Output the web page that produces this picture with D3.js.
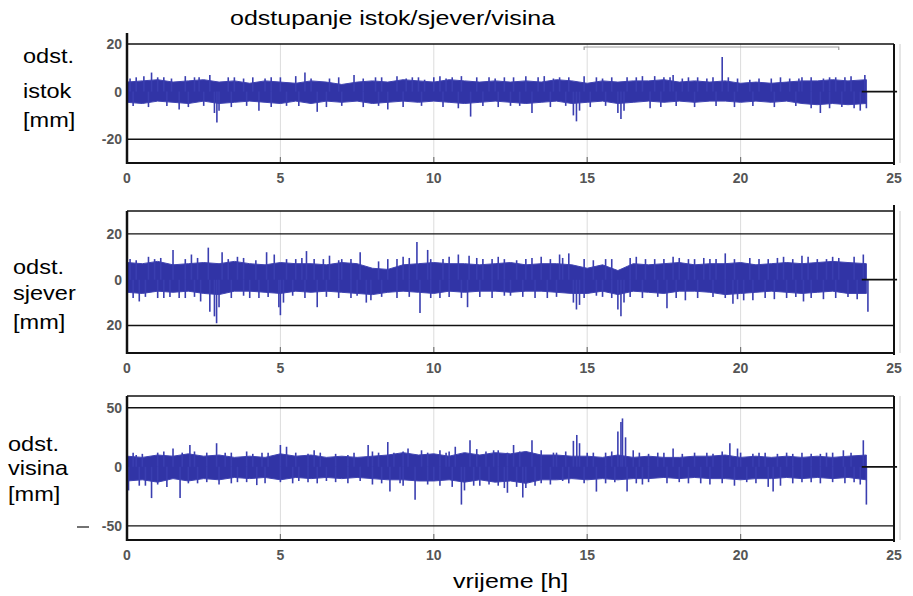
<!DOCTYPE html>
<html>
<head>
<meta charset="utf-8">
<script src="https://cdn.jsdelivr.net/npm/d3@7"></script>
<style>
  body { margin: 0; background: #fff; }
  text { font-family: "Liberation Sans", Arial, sans-serif; }
</style>
</head>
<body>
<script>
var width = 913, height = 596;

// band sample times [h]
var bandTimes = [0,0.5,1,1.5,2,2.5,3,3.5,4,4.5,5,5.5,6,6.5,7,7.5,8,8.5,9,9.5,10,10.5,11,11.5,12,12.5,
  13,13.5,14,14.5,15,15.5,16,16.5,17,17.5,18,18.5,19,19.5,20,20.5,21,21.5,22,22.5,23,23.5,24.1];
var xTicks = [0, 5, 10, 15, 20, 25];

// istok (east) deviation [mm]
var istokHi = [4,4.5,5,4,4.5,5,4,4.5,3.5,4.5,4,3.5,4.5,4,3,4,4.5,4,5,4.5,4,5,4.5,4,4.5,4,4.5,4,5,4.5,
  3.5,4.5,4,4.5,4.5,5,4,4.5,4,4.5,3.5,4,3.5,4,4.5,4.5,5,4.5,5];
var istokLo = [-4.5,-5,-4,-4.5,-5,-4,-5,-4.5,-4,-4.5,-5,-4,-5,-4,-4.5,-4,-5,-4.5,-4,-4.5,-4,-4.5,-5,-4.5,
  -4,-4.5,-5,-4.5,-4,-5,-4.5,-4,-5,-4.5,-4,-4.5,-4,-4.5,-4,-4,-4.5,-4,-4.5,-4,-5,-5.5,-5,-5.5,-5];
var istokSpikes = [[0.3,6],[0.8,8],[1.2,6],[1.7,-7.5],[2.2,6],[2.7,7],[2.85,-9],[2.93,-13],[3.0,-8],[3.5,6],
  [4.3,-8],[4.7,6],[5.2,-6],[5.8,8],[6.2,-8.5],[6.6,5.5],[7.4,7],[8.1,6],[8.5,-7.5],[9.3,6],[9.7,5],
  [10.2,6.5],[10.6,6],[11.2,-10.5],[11.8,6],[12.3,6],[12.8,-6],[13.2,-9],[13.6,6.5],[14.1,6],[14.55,-10],
  [14.65,-12.5],[14.75,-8],[15.3,6],[16.0,-9],[16.1,-11.5],[16.2,-8],[16.3,6],[16.8,6.5],[17.05,-7],[17.5,6],
  [17.8,7],[18.3,6],[18.9,5.5],[19.4,14.5],[19.6,6],[20.3,5],[21.0,5.5],[21.6,5.5],[22.0,6],[22.6,-9],
  [22.9,6],[23.4,6],[23.9,-8],[24.05,7],[24.1,-7]];
var istokFringe = [[0.1,5.5],[0.55,6.5],[1.0,6],[1.45,5.5],[1.9,6.5],[2.35,6],[3.3,6],[3.8,5.5],[4.1,6],
  [4.5,5.5],[5.0,6],[5.5,6.5],[6.0,5.5],[6.9,6],[7.7,5.5],[8.3,6],[8.8,6.5],[9.1,5.5],[9.5,6],[10.0,6],
  [10.4,5.5],[10.9,6.5],[11.4,6],[12.0,5.5],[12.6,6],[13.0,6.5],[13.4,6],[13.9,5.5],[14.4,6],[14.9,6.5],
  [15.5,5.5],[15.8,6],[16.6,6],[17.2,6.5],[17.7,6],[18.1,5.5],[18.6,6],[19.1,6],[19.9,5.5],[20.6,5.5],
  [21.3,6],[21.9,5.5],[22.3,6],[22.7,5.5],[23.1,6],[23.6,6.5],
  [0.2,-6],[0.7,-6.5],[1.3,-6],[2.0,-6.5],[2.5,-6],[3.4,-6.5],[3.9,-6],[4.7,-6.5],[5.6,-6],[6.5,-6.5],
  [7.0,-6],[7.7,-6.5],[8.2,-6],[9.0,-6.5],[9.6,-6],[10.3,-6.5],[10.8,-7],[11.6,-6],[12.1,-6.5],[12.5,-6],
  [13.8,-6.5],[14.3,-6],[15.1,-6.5],[15.6,-6],[17.4,-6.5],[17.9,-6],[18.5,-6.5],[19.2,-6],[19.8,-6.5],
  [20.4,-6],[21.1,-6.5],[21.8,-6],[22.3,-7],[22.9,-7],[23.3,-6.5],[23.7,-7]];

// sjever (north) deviation [mm]
var sjeverHi = [7.5,7,8,6.5,7,7.5,7,8,7,6.5,7.5,7,7,6.5,7.5,7,5,4.5,6.5,7,7.5,7,7,6.5,7,7.5,6.5,7,7,6.5,
  5,6.5,4,7,6.5,7,7.5,6.5,7,7,7.5,6.5,7,7.5,7,7.5,8,7.5,7];
var sjeverLo = [-5.5,-6,-5,-5.5,-5,-6,-6.5,-5,-5,-5.5,-6,-5,-5.5,-5,-5.5,-6,-6.5,-5.5,-5,-5.5,-6,-5,-5.5,
  -5,-5,-5.5,-5,-5,-5.5,-6,-6,-5,-6.5,-5,-5.5,-6,-5,-5,-5.5,-6.5,-6,-5.5,-5,-5.5,-6,-5.5,-5,-6,-6];
var sjeverSpikes = [[0.4,-9.5],[0.7,10],[1.2,-8],[1.5,13],[1.7,-8],[2.1,11],[2.4,-9.5],[2.65,14],[2.7,-14],
  [2.85,-16],[2.92,-19],[3.0,-12],[3.1,12],[3.6,10],[4.0,-8],[4.55,12],[4.8,11],[4.95,-12],[5.0,-15.5],
  [5.1,-10],[5.5,9],[5.85,12.5],[6.2,-12],[6.6,10.5],[7.0,9],[7.3,-8],[7.6,12],[7.8,-10],[7.95,-9],[8.5,9],
  [9.0,10],[9.45,16.5],[9.55,-14.5],[9.8,13],[10.2,-8],[10.5,10],[10.8,11],[11.1,-12],[11.15,10.5],[11.6,9],
  [12.1,10],[12.5,-7],[13.0,9],[13.5,10],[13.7,-8],[14.1,11],[14.4,11.5],[14.55,-10],[14.65,-13],[14.75,-11],
  [15.3,-7],[15.6,9],[16.0,-13],[16.1,-16],[16.2,-10],[16.6,10],[17.2,9],[17.6,-12.5],[18.0,9.5],[18.5,9],
  [19.0,9],[19.5,11.5],[19.75,-10.5],[20.1,-9],[20.6,9],[21.2,9.5],[21.5,-8],[22.0,10.5],[22.05,-9.5],
  [22.5,9],[23.0,10],[23.5,-7.5],[24.0,11],[24.15,-14]];
var sjeverFringe = [[0.1,9],[0.3,8.5],[0.9,9],[1.1,9.5],[1.9,9],[2.3,9.5],[3.3,9],[3.8,9.5],[4.2,8.5],
  [5.2,9],[5.7,9.5],[6.1,9],[6.4,9],[6.9,8.5],[7.3,9],[8.2,8],[8.8,9],[9.2,9.5],[9.9,9],[10.3,9],[11.4,9.5],
  [11.9,9],[12.3,9],[12.7,8.5],[13.2,9.5],[13.8,9],[14.2,9.5],[14.9,9],[15.2,8.5],[15.8,9],[16.4,9.5],
  [16.9,9],[17.5,9],[17.8,10],[18.3,9],[18.8,9.5],[19.2,9],[19.8,9],[20.3,9.5],[20.9,9],[21.4,10],[21.7,9],
  [22.2,10],[22.8,9],[23.2,9.5],[23.7,10],
  [0.2,-8],[0.6,-7.5],[1.0,-8],[1.4,-7.5],[1.9,-8],[2.2,-7.5],[3.4,-8],[3.8,-7],[4.3,-8],[4.6,-7.5],
  [5.4,-7],[5.8,-8],[6.5,-7.5],[6.9,-8],[7.5,-7],[8.3,-7.5],[8.8,-8],[9.2,-7.5],[9.9,-8],[10.5,-7.5],
  [10.9,-8],[11.5,-7.5],[11.9,-8],[12.3,-7],[12.9,-7.5],[13.3,-8],[14.0,-7.5],[14.9,-8],[15.5,-7.5],
  [15.8,-8],[16.4,-7.5],[16.8,-8],[17.3,-7.5],[17.9,-8],[18.2,-9],[18.6,-8],[19.1,-7.5],[19.5,-8],
  [19.9,-8.5],[20.4,-9],[20.8,-8],[21.1,-8.5],[21.8,-7.5],[22.3,-8],[22.7,-8.5],[23.1,-8],[23.8,-8.5]];

// visina (height) deviation [mm]
var visinaHi = [9,8,10,9,11,9,10,8,9,8,11,9,10,8,9,8,9,10,12,10,11,9,12,10,12,11,13,10,10,9,9,8,10,8,9,
  8,8,9,9,10,8,9,8,9,8,9,8,9,10];
var visinaLo = [-12,-11,-13,-10,-12,-10,-11,-9,-10,-9,-11,-9,-10,-9,-10,-9,-10,-11,-11,-12,-12,-11,-13,-11,
  -13,-12,-14,-11,-11,-10,-11,-10,-11,-10,-10,-9,-10,-9,-10,-10,-11,-10,-10,-9,-10,-9,-10,-9,-11];
var visinaSpikes = [[0.05,-20],[0.3,10],[0.6,-16],[0.8,-26.5],[1.0,12],[1.5,15.5],[1.73,-26.5],[2.05,18.5],
  [2.3,-14],[2.92,20],[3.2,12],[3.6,-13],[4.23,-15.5],[4.6,12],[5.0,18.5],[5.2,17],[5.6,-12],[6.1,14],
  [6.5,-12],[7.2,10],[7.6,-12],[7.86,18.5],[8.2,12],[8.5,21],[8.57,-21],[8.9,-14],[9.16,15.5],[9.39,-28],
  [9.6,14],[10.0,-12],[10.4,12],[10.7,17],[10.9,-32],[11.0,-20],[11.18,22.5],[11.5,-16],[11.95,14],
  [12.3,-18],[12.4,-22],[12.6,18.5],[12.9,-26],[13.2,22.5],[13.5,-14],[13.9,12],[14.2,-12],[14.55,22],
  [14.66,27],[14.75,20],[15.0,12],[15.3,-21],[15.6,12],[16.0,30],[16.1,38],[16.15,41],[16.25,25],[16.3,-21],
  [16.5,14],[17.0,-13],[17.3,12],[17.8,15.5],[18.3,-14],[18.9,12],[19.65,20],[19.9,15.5],[20.2,-13],
  [20.6,12],[21.06,-21],[21.5,12],[22.0,-13],[22.3,11],[22.8,12],[23.35,14],[23.7,-13],[24.0,22.5],[24.1,-32]];
var visinaFringe = [[0.2,12],[0.5,11],[1.2,13],[1.8,12],[2.2,13],[2.6,12],[3.4,12],[3.9,13],[4.1,11],
  [4.4,12],[5.5,12],[5.9,11],[6.3,12],[6.8,11],[7.4,12],[8.0,13],[8.7,12],[9.0,13],[9.8,12],[10.2,14],
  [10.5,13],[11.4,15],[11.7,13],[12.1,14],[12.4,12],[12.8,13],[13.5,14],[14.0,12],[14.3,13],[15.2,12],
  [15.8,13],[16.7,12],[17.0,11],[17.5,12],[18.1,11],[18.5,12],[19.1,11],[19.4,13],[20.0,12],[20.4,11],
  [20.8,12],[21.2,11],[21.7,11],[22.0,12],[22.6,11],[23.0,12],[23.6,12],
  [0.4,-16],[1.0,-15],[1.3,-17],[2.0,-14],[2.6,-13],[3.0,-15],[3.4,-14],[3.9,-13],[4.5,-14],[5.0,-13],
  [5.4,-14],[5.9,-13],[6.2,-14],[6.8,-13],[7.2,-14],[8.0,-15],[8.3,-14],[9.0,-16],[9.8,-15],[10.2,-16],
  [10.6,-17],[11.3,-16],[11.8,-15],[12.1,-16],[12.7,-17],[13.0,-18],[13.3,-16],[13.8,-15],[14.4,-14],
  [14.9,-14],[15.6,-14],[15.9,-13],[16.6,-14],[16.8,-15],[17.6,-14],[18.0,-13],[18.7,-14],[19.0,-15],
  [19.4,-14],[19.8,-16],[20.5,-14],[20.9,-17],[21.3,-16],[21.7,-14],[22.3,-13],[22.6,-14],[23.0,-13],
  [23.4,-14],[23.9,-15]];

var panels = [
  {hi: istokHi, lo: istokLo, spikes: istokSpikes.concat(istokFringe), domain: [-30, 20], range: [163, 44],
   lines: [20, -20], ticks: [20, 0, -20], tickText: ["20", "0", "-20"], axisTop: 33, rightTop: 44,
   label: ["odst.", "istok", "[mm]"], labelX: 23, labelY: [63, 98, 127]},
  {hi: sjeverHi, lo: sjeverLo, spikes: sjeverSpikes.concat(sjeverFringe), domain: [-32, 30], range: [353, 211],
   lines: [30, 20, -20], ticks: [20, 0, -20], tickText: ["20", "0", "20"], axisTop: 211, rightTop: 205,
   label: ["odst.", "sjever", "[mm]"], labelX: 13, labelY: [274, 300, 329]},
  {hi: visinaHi, lo: visinaLo, spikes: visinaSpikes.concat(visinaFringe), domain: [-62, 60], range: [540, 396],
   lines: [60, 50, -50], ticks: [50, 0, -50], tickText: ["50", "0", "-50"], axisTop: 396, rightTop: 396,
   label: ["odst.", "visina", "[mm]"], labelX: 8, labelY: [451, 475, 501]}
];

var x = d3.scaleLinear().domain([0, 25]).range([127, 894]);

var svg = d3.select("body").append("svg")
  .attr("width", width)
  .attr("height", height);

// the scanned text is a bit wider than Arial
function stretch(sel, k) {
  sel.each(function() {
    var w = this.getComputedTextLength();
    d3.select(this).attr("textLength", w * k).attr("lengthAdjust", "spacingAndGlyphs");
  });
}

svg.append("text")
  .attr("x", 230).attr("y", 25)
  .style("font-size", "21px")
  .text("odstupanje istok/sjever/visina")
  .call(stretch, 1.19);

svg.append("text")
  .attr("x", 453).attr("y", 588)
  .style("font-size", "21px")
  .text("vrijeme [h]")
  .call(stretch, 1.19);

panels.forEach(function(p) {
  var y = d3.scaleLinear().domain(p.domain).range(p.range);
  var top = p.range[1], bottom = p.range[0];
  var g = svg.append("g");

  // faint grid
  g.selectAll(".grid")
    .data(xTicks.slice(1, 5))
    .enter().append("line")
    .attr("x1", x).attr("x2", x)
    .attr("y1", top).attr("y2", bottom)
    .attr("stroke", "#dcdcdc")
    .attr("stroke-width", 1);

  g.selectAll(".tick")
    .data(xTicks.slice(1, 5))
    .enter().append("line")
    .attr("x1", x).attr("x2", x)
    .attr("y1", bottom - 6).attr("y2", bottom)
    .attr("stroke", "#777")
    .attr("stroke-width", 1.2);

  // faint outer frame
  g.append("line")
    .attr("x1", x(25) + 6).attr("x2", x(25) + 6)
    .attr("y1", top).attr("y2", bottom)
    .attr("stroke", "#ccc");

  // band
  var area = d3.area()
    .x(function(d, j) { return x(bandTimes[j]); })
    .y0(function(d, j) { return y(p.lo[j]); })
    .y1(function(d, j) { return y(p.hi[j]); });

  g.append("path")
    .datum(p.hi)
    .attr("d", area)
    .attr("fill", "#3134a6")
    .attr("stroke", "#4044b2")
    .attr("stroke-width", 1);

  g.selectAll(".spike")
    .data(p.spikes)
    .enter().append("line")
    .attr("x1", function(d) { return x(d[0]); })
    .attr("x2", function(d) { return x(d[0]); })
    .attr("y1", y(0))
    .attr("y2", function(d) { return y(d[1]); })
    .attr("stroke", "#3a3eb0")
    .attr("stroke-width", 1.6);

  // black guide lines
  g.selectAll(".hline")
    .data(p.lines)
    .enter().append("line")
    .attr("x1", x(0)).attr("x2", x(25))
    .attr("y1", y).attr("y2", y)
    .attr("stroke", "#111")
    .attr("stroke-width", 1.4);

  // bottom, left and right axes
  g.append("line")
    .attr("x1", x(0)).attr("x2", x(25))
    .attr("y1", bottom).attr("y2", bottom)
    .attr("stroke", "#111").attr("stroke-width", 2);
  g.append("line")
    .attr("x1", x(0)).attr("x2", x(0))
    .attr("y1", p.axisTop).attr("y2", bottom + 1)
    .attr("stroke", "#111").attr("stroke-width", 2.5);
  g.append("line")
    .attr("x1", x(25)).attr("x2", x(25))
    .attr("y1", p.rightTop).attr("y2", bottom + 2)
    .attr("stroke", "#111").attr("stroke-width", 2);

  // end marker at zero
  g.append("line")
    .attr("x1", x(23.95)).attr("x2", x(25.1))
    .attr("y1", y(0)).attr("y2", y(0))
    .attr("stroke", "#111").attr("stroke-width", 1.8);

  // y tick labels
  g.selectAll(".ylab")
    .data(p.ticks)
    .enter().append("text")
    .attr("x", 122)
    .attr("y", y)
    .attr("dy", "0.35em")
    .attr("text-anchor", "end")
    .style("font-size", "14px")
    .style("font-weight", "bold")
    .style("fill", "#555")
    .text(function(d, j) { return p.tickText[j]; });

  // x tick labels
  g.selectAll(".xlab")
    .data(xTicks)
    .enter().append("text")
    .attr("x", x)
    .attr("y", bottom + 15)
    .attr("dy", "0.35em")
    .attr("text-anchor", "middle")
    .style("font-size", "14px")
    .style("font-weight", "bold")
    .style("fill", "#555")
    .text(function(d) { return d; });

  // y label
  g.selectAll(".lab")
    .data(p.label)
    .enter().append("text")
    .attr("x", p.labelX)
    .attr("y", function(d, j) { return p.labelY[j]; })
    .style("font-size", "21px")
    .text(function(d) { return d; })
    .call(stretch, 1.12);
});

// legend remnant in first panel
svg.append("path")
  .attr("d", "M" + x(14.9) + "," + 50 + "V" + 47 + "H" + x(23.2) + "V" + 50)
  .attr("fill", "none")
  .attr("stroke", "#999")
  .attr("stroke-width", 1.2);

// dash before -50
svg.append("line")
  .attr("x1", 77).attr("x2", 89)
  .attr("y1", 527).attr("y2", 527)
  .attr("stroke", "#444").attr("stroke-width", 1.5);
</script>
</body>
</html>
